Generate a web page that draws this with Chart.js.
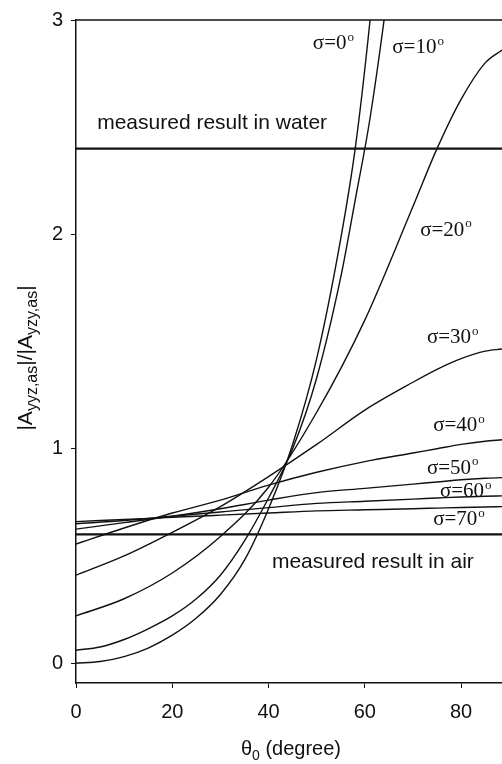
<!DOCTYPE html>
<html>
<head>
<meta charset="utf-8">
<script src="https://cdn.jsdelivr.net/npm/chart.js@4/dist/chart.umd.min.js"></script>
<style>
  body { margin: 0; background: #fff; }
</style>
</head>
<body>
<canvas id="myChart" width="502" height="764"></canvas>
<script>
// theta_0 values (degree)
const thetaSteep = [0, 5, 10, 15, 20, 25, 30, 35, 40, 45, 50, 55, 58, 61, 64, 67];
const theta = [0, 10, 20, 30, 40, 50, 60, 70, 75, 80, 85, 88.5];

// |A_yyz,as| / |A_yzy,as| for each sigma
const sigma0 = [0, 0.007, 0.03, 0.07, 0.13, 0.21, 0.32, 0.48, 0.72, 1.02, 1.42, 1.98, 2.4, 2.98, 3.7, 4.5];
const sigma10 = [0.06, 0.075, 0.11, 0.16, 0.22, 0.3, 0.41, 0.57, 0.77, 1.0, 1.33, 1.8, 2.16, 2.53, 3.0, 3.55];
const sigma20 = [0.22, 0.3, 0.42, 0.59, 0.82, 1.17, 1.6, 2.13, 2.4, 2.63, 2.8, 2.86];
const sigma30 = [0.41, 0.5, 0.61, 0.73, 0.87, 1.02, 1.18, 1.31, 1.37, 1.42, 1.455, 1.465];
const sigma40 = [0.555, 0.63, 0.7, 0.76, 0.83, 0.89, 0.94, 0.98, 1.0, 1.02, 1.035, 1.042];
const sigma50 = [0.625, 0.655, 0.685, 0.72, 0.76, 0.795, 0.815, 0.835, 0.845, 0.855, 0.862, 0.865];
const sigma60 = [0.65, 0.665, 0.685, 0.705, 0.725, 0.745, 0.755, 0.765, 0.77, 0.775, 0.778, 0.78];
const sigma70 = [0.66, 0.67, 0.68, 0.69, 0.7, 0.71, 0.715, 0.72, 0.723, 0.726, 0.728, 0.73];

// measured results
const measuredWater = 2.4;
const measuredAir = 0.6;

const xTicks = [0, 20, 40, 60, 80];
const yTicks = [0, 1, 2, 3];

// text labels placed in data units
const sigmaLabels = [
    { text: 'σ=0', x: 49.2, y: 2.89 },
    { text: 'σ=10', x: 65.7, y: 2.87 },
    { text: 'σ=20', x: 71.5, y: 2.02 },
    { text: 'σ=30', x: 72.9, y: 1.52 },
    { text: 'σ=40', x: 74.2, y: 1.11 },
    { text: 'σ=50', x: 72.9, y: 0.91 },
    { text: 'σ=60', x: 75.6, y: 0.80 },
    { text: 'σ=70', x: 74.2, y: 0.67 }
];
const noteLabels = [
    { text: 'measured result in water', x: 4.4, y: 2.52 },
    { text: 'measured result in air', x: 40.7, y: 0.47 }
];

function toPoints(xs, ys) {
    let pts = [];
    for (var i = 0; i < xs.length; i++) {
        pts.push({ x: xs[i], y: ys[i] });
    }
    return pts;
}

function curve(xs, ys) {
    return {
        data: toPoints(xs, ys),
        borderColor: '#111',
        borderWidth: 1.4,
        pointRadius: 0,
        fill: false,
        cubicInterpolationMode: 'monotone'
    };
}

function flatLine(value) {
    return {
        data: [{ x: 0, y: value }, { x: 88.5, y: value }],
        borderColor: '#111',
        borderWidth: 2.2,
        pointRadius: 0,
        fill: false
    };
}

const textPlugin = {
    id: 'texts',
    afterDraw(chart) {
        const c = chart.ctx;
        const xs = chart.scales.x;
        const ys = chart.scales.y;
        const area = chart.chartArea;
        c.save();
        c.fillStyle = '#111';
        c.strokeStyle = '#111';

        // top frame line
        c.lineWidth = 1.5;
        c.beginPath();
        c.moveTo(area.left, area.top);
        c.lineTo(area.right, area.top);
        c.stroke();

        c.textBaseline = 'middle';
        c.textAlign = 'left';

        // sigma labels with superscript degree
        sigmaLabels.forEach(function (l) {
            const px = xs.getPixelForValue(l.x);
            const py = ys.getPixelForValue(l.y);
            c.font = '21px "Liberation Serif"';
            c.fillText(l.text, px, py);
            const w = c.measureText(l.text).width;
            c.font = '13px "Liberation Serif"';
            c.fillText('o', px + w + 1, py - 6);
        });

        c.font = '21px "Liberation Sans"';
        noteLabels.forEach(function (l) {
            c.fillText(l.text, xs.getPixelForValue(l.x), ys.getPixelForValue(l.y));
        });

        // x axis title: theta_0 (degree)
        c.textBaseline = 'alphabetic';
        const xParts = [
            { t: 'θ', f: '20px "Liberation Sans"', dy: 0 },
            { t: '0', f: '14px "Liberation Sans"', dy: 5 },
            { t: ' (degree)', f: '20px "Liberation Sans"', dy: 0 }
        ];
        let total = 0;
        xParts.forEach(function (p) { c.font = p.f; total += c.measureText(p.t).width; });
        let cx = 291 - total / 2;
        xParts.forEach(function (p) {
            c.font = p.f;
            c.fillText(p.t, cx, 755 + p.dy);
            cx += c.measureText(p.t).width;
        });

        // y axis title: |A_yyz,as|/|A_yzy,as|
        const yParts = [
            { t: '|A', f: '21px "Liberation Sans"', dy: 0 },
            { t: 'yyz,as', f: '16px "Liberation Sans"', dy: 5 },
            { t: '|/|A', f: '21px "Liberation Sans"', dy: 0 },
            { t: 'yzy,as', f: '16px "Liberation Sans"', dy: 5 },
            { t: '|', f: '21px "Liberation Sans"', dy: 0 }
        ];
        total = 0;
        yParts.forEach(function (p) { c.font = p.f; total += c.measureText(p.t).width; });
        c.translate(32, 358);
        c.rotate(-Math.PI / 2);
        cx = -total / 2;
        yParts.forEach(function (p) {
            c.font = p.f;
            c.fillText(p.t, cx, p.dy);
            cx += c.measureText(p.t).width;
        });
        c.restore();
    }
};

const ctx = document.getElementById('myChart').getContext('2d');
const myChart = new Chart(ctx, {
    type: 'line',
    data: {
        datasets: [
            curve(thetaSteep, sigma0),
            curve(thetaSteep, sigma10),
            curve(theta, sigma20),
            curve(theta, sigma30),
            curve(theta, sigma40),
            curve(theta, sigma50),
            curve(theta, sigma60),
            curve(theta, sigma70),
            flatLine(measuredWater),
            flatLine(measuredAir)
        ]
    },
    options: {
        responsive: false,
        animation: false,
        layout: { padding: { top: 20, right: 0, left: 0, bottom: 0 } },
        plugins: {
            legend: { display: false },
            tooltip: { enabled: false }
        },
        scales: {
            x: {
                type: 'linear',
                min: 0,
                max: 88.5,
                afterFit: function (scale) { scale.height = 81; },
                afterBuildTicks: function (scale) {
                    scale.ticks = xTicks.map(function (v) { return { value: v }; });
                },
                grid: { drawOnChartArea: false, drawTicks: true, tickLength: 5, color: '#111' },
                border: { display: true, color: '#111', width: 1.5 },
                ticks: {
                    padding: 12,
                    color: '#111',
                    font: { family: 'Liberation Sans', size: 20 }
                }
            },
            y: {
                type: 'linear',
                min: -0.093,
                max: 3,
                afterFit: function (scale) { scale.width = 76; },
                afterBuildTicks: function (scale) {
                    scale.ticks = yTicks.map(function (v) { return { value: v }; });
                },
                grid: { drawOnChartArea: false, drawTicks: true, tickLength: 5, color: '#111' },
                border: { display: true, color: '#111', width: 1.5 },
                ticks: {
                    padding: 8,
                    color: '#111',
                    font: { family: 'Liberation Sans', size: 20 }
                }
            }
        }
    },
    plugins: [textPlugin]
});
</script>
</body>
</html>
